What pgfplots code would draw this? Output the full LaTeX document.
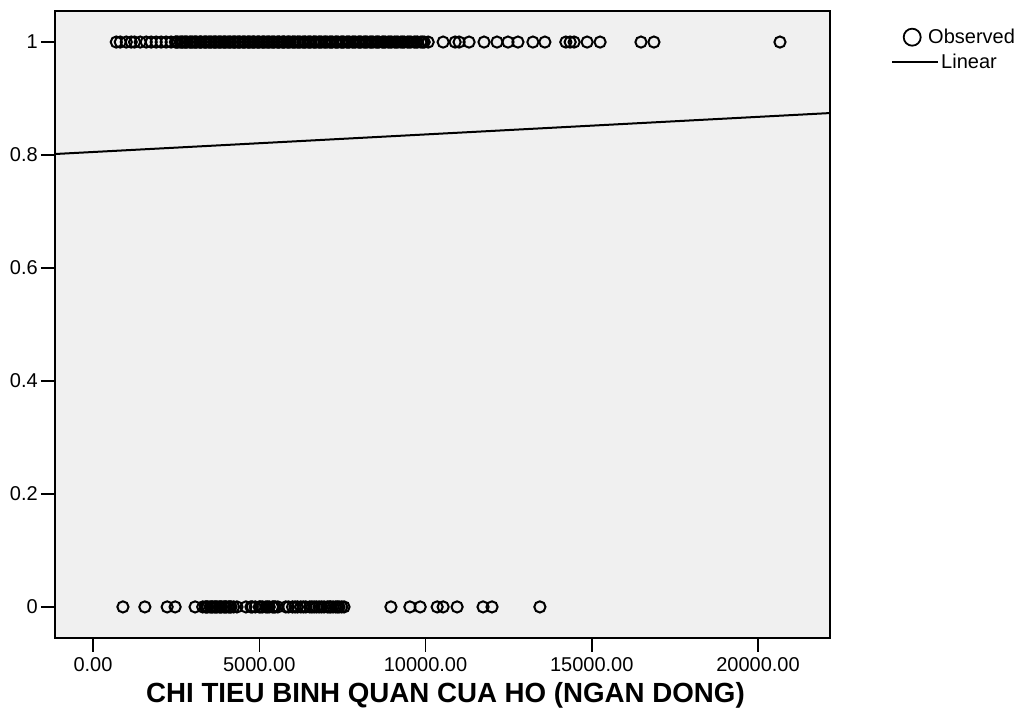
\documentclass[border=0pt]{standalone}
\usepackage{pgfplots}
\pgfplotsset{compat=1.18}
\usepackage{fontspec}
\setmainfont{Liberation Sans}
\begin{document}
\begin{tikzpicture}
\path (-55pt,-84pt) rectangle (974pt,638pt);
\begin{axis}[
  at={(0pt,0pt)}, anchor=south west,
  scale only axis, width=775pt, height=627pt,
  xmin=-1143, xmax=22165, ymin=-0.055, ymax=1.055,
  axis background/.style={fill=gray!12},
  axis line style={line width=1.3pt, black},
  tick align=outside, tick pos=left, major tick length=14pt,
  tick style={line width=1.5pt, black},
  xtick={0,5000,10000,15000,20000},
  ytick={0,0.2,0.4,0.6,0.8,1},
  scaled x ticks=false, scaled y ticks=false,
  x tick label style={/pgf/number format/.cd, fixed, fixed zerofill, precision=2, 1000 sep={}, /tikz/.cd, inner sep=5pt},
  y tick label style={/pgf/number format/.cd, fixed, precision=1, /tikz/.cd, inner sep=3pt},
  tick label style={font=\fontsize{20}{24}\selectfont},
  /pgf/number format/assume math mode=true,
  xlabel={CHI TIEU BINH QUAN CUA HO (NGAN DONG)},
  xlabel style={font=\fontsize{27.7}{32}\selectfont\bfseries, at={(axis description cs:0.5,0)}, anchor=center, xshift=3pt, yshift=-57pt},
  legend style={at={(axis description cs:1,1)}, anchor=north west, xshift=58pt, yshift=-14pt,
    draw=none, fill=none, font=\fontsize{20}{24}\selectfont, row sep=5pt},
  legend cell align=left,
  clip=false,
]
\addplot[only marks, mark=o, mark size=5.6pt, mark options={line width=2pt, black},
  legend image code/.code={\draw[line width=1.8pt] (20pt,0pt) circle (8.5pt);}]
coordinates {
(700,1) (820,1) (1000,1) (1150,1) (1250,1) (1420,1) (1600,1) (1750,1) (1900,1) (2050,1) (2200,1) (2350,1)
(2480,1) (2550,1) (2620,1) (2700,1) (2760,1) (2830,1) (2910,1) (2990,1) (3050,1) (3120,1) (3200,1) (3260,1)
(3340,1) (3410,1) (3480,1) (3560,1) (3630,1) (3700,1) (3770,1) (3850,1) (3920,1) (3990,1) (4060,1) (4140,1)
(4210,1) (4280,1) (4350,1) (4420,1) (4500,1) (4570,1) (4650,1) (4720,1) (4790,1) (4860,1) (4940,1) (5010,1)
(5090,1) (5160,1) (5230,1) (5310,1) (5380,1) (5460,1) (5540,1) (5610,1) (5690,1) (5760,1) (5840,1) (5920,1)
(6000,1) (6080,1) (6150,1) (6230,1) (6310,1) (6390,1) (6470,1) (6550,1) (6630,1) (6710,1) (6790,1) (6870,1)
(6950,1) (7040,1) (7120,1) (7200,1) (7290,1) (7370,1) (7460,1) (7540,1) (7630,1) (7710,1) (7800,1) (7890,1)
(7980,1) (8060,1) (8150,1) (8240,1) (8330,1) (8420,1) (8510,1) (8600,1) (8700,1) (8790,1) (8880,1) (8980,1)
(9070,1) (9170,1) (9260,1) (9360,1) (9460,1) (9560,1) (9660,1) (9760,1) (9860,1) (9960,1) (10080,1)
(2515,1) (2665,1) (2795,1) (2948,1) (3085,1) (3232,1) (3377,1) (3521,1) (3668,1) (3812,1) (3957,1) (4103,1)
(4247,1) (4391,1) (4536,1) (4683,1) (4826,1) (4973,1) (5122,1) (5272,1) (5419,1) (5577,1) (5728,1) (5881,1)
(6041,1) (6192,1) (6352,1) (6508,1) (6668,1) (6828,1) (6991,1) (7161,1) (7328,1) (7498,1) (7672,1) (7845,1)
(8021,1) (8196,1) (8373,1) (8556,1) (8743,1) (8931,1) (9118,1) (9312,1) (9508,1) (9712,1) (9912,1)
(10530,1) (10890,1) (11010,1) (11310,1) (11760,1) (12150,1) (12480,1) (12780,1) (13230,1) (13590,1)
(14220,1) (14350,1) (14470,1) (14860,1) (15250,1) (16480,1) (16870,1) (20660,1)
(900,0) (1560,0) (2230,0) (2470,0) (3070,0)
(3300,0) (3380,0) (3450,0) (3520,0) (3600,0) (3660,0) (3730,0) (3800,0) (3870,0) (3940,0) (4010,0) (4080,0)
(4150,0) (4230,0) (4330,0) (4600,0) (4750,0) (4880,0) (5000,0) (5100,0) (5200,0) (5300,0) (5400,0) (5480,0)
(5560,0) (5800,0) (5880,0) (6000,0) (6150,0) (6250,0) (6400,0) (6520,0) (6650,0) (6720,0) (6800,0) (6950,0)
(7050,0) (7150,0) (7220,0) (7300,0) (7400,0) (7480,0) (7550,0)
(3415,0) (3565,0) (3697,0) (3835,0) (3976,0) (4118,0) (4790,0) (5048,0) (5251,0) (5440,0) (6078,0) (6327,0)
(6585,0) (6873,0) (7102,0) (7352,0)
(8960,0) (9530,0) (9840,0) (10350,0) (10530,0) (10950,0) (11730,0) (12000,0) (13440,0)
};
\addlegendentry{\hspace{-13pt}Observed}
\addplot[no marks, line width=2pt, black,
  legend image code/.code={\draw[line width=2pt] (0pt,0pt) -- (46pt,0pt);}]
coordinates {(-1143,0.8018) (22165,0.8743)};
\addlegendentry{Linear}
\end{axis}
\end{tikzpicture}
\end{document}
